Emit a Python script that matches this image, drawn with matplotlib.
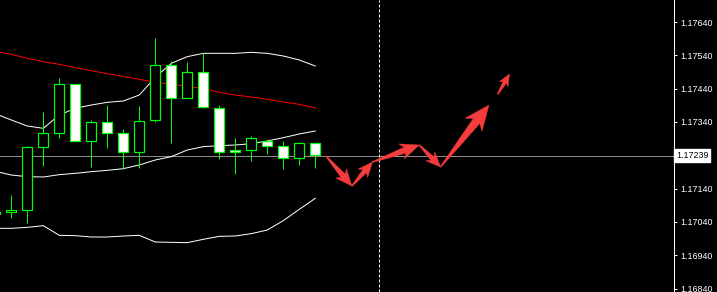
import numpy as np
import matplotlib
matplotlib.use("Agg")
import matplotlib.pyplot as plt
from matplotlib.patches import Rectangle, Polygon

# ---------------- data ----------------
bar_index = list(range(-1, 20))
opens  = [1.17064, 1.17069, 1.17075, 1.17264, 1.17306, 1.17453, 1.17282, 1.17339, 1.17306, 1.17249,
          1.17345, 1.17510, 1.17413, 1.17489, 1.17381, 1.17255, 1.17255, 1.17282, 1.17267, 1.17231, 1.17276]
highs  = [1.17072, 1.17121, 1.17268, 1.17370, 1.17471, 1.17453, 1.17346, 1.17390, 1.17319, 1.17388,
          1.17592, 1.17523, 1.17520, 1.17546, 1.17390, 1.17292, 1.17298, 1.17289, 1.17282, 1.17280, 1.17276]
lows   = [1.17060, 1.17051, 1.17038, 1.17209, 1.17293, 1.17282, 1.17206, 1.17263, 1.17199, 1.17203,
          1.17341, 1.17278, 1.17413, 1.17381, 1.17230, 1.17185, 1.17224, 1.17245, 1.17200, 1.17212, 1.17203]
closes = [1.17070, 1.17075, 1.17264, 1.17306, 1.17453, 1.17282, 1.17339, 1.17306, 1.17249, 1.17342,
          1.17510, 1.17411, 1.17489, 1.17384, 1.17249, 1.17249, 1.17291, 1.17267, 1.17231, 1.17276, 1.17240]

bb_upper = [1.17365, 1.17346, 1.17328, 1.17321, 1.17361, 1.17381, 1.17391, 1.17399, 1.17403, 1.17421,
            1.17474, 1.17516, 1.17536, 1.17546, 1.17546, 1.17546, 1.17549, 1.17546, 1.17538, 1.17526, 1.17508]
bb_middle = [1.17192, 1.17181, 1.17176, 1.17175, 1.17182, 1.17186, 1.17191, 1.17195, 1.17200, 1.17211,
             1.17226, 1.17236, 1.17256, 1.17266, 1.17269, 1.17271, 1.17275, 1.17283, 1.17293, 1.17304, 1.17313]
bb_lower = [1.17021, 1.17021, 1.17024, 1.17029, 1.17000, 1.16999, 1.16995, 1.16995, 1.16998, 1.17000,
            1.16980, 1.16979, 1.16978, 1.16988, 1.16997, 1.16998, 1.17005, 1.17016, 1.17044, 1.17078, 1.17111]
ma_red = [1.17552, 1.17543, 1.17531, 1.17521, 1.17513, 1.17503, 1.17494, 1.17485, 1.17477, 1.17468,
          1.17459, 1.17453, 1.17447, 1.17440, 1.17429, 1.17421, 1.17415, 1.17408, 1.17400, 1.17393, 1.17382]

# forecast arrows (start -> end)
arrow_x0 = [19.67, 21.29, 22.58, 25.50, 26.83, 30.40]
arrow_y0 = [1.17238, 1.17148, 1.17220, 1.17271, 1.17205, 1.17423]
arrow_x1 = [21.29, 22.58, 25.50, 26.83, 29.86, 31.14]
arrow_y1 = [1.17148, 1.17220, 1.17271, 1.17205, 1.17391, 1.17484]

current_price = 1.17239
current_label = "1.17239"
tick_prices = [1.17640, 1.17540, 1.17440, 1.17340, 1.17140, 1.17040, 1.16940, 1.16840]
tick_labels = ["1.17640", "1.17540", "1.17440", "1.17340", "1.17140", "1.17040", "1.16940", "1.16840"]
separator_index = 23.0

# ---------------- figure ----------------
W, H = 717, 292
fig = plt.figure(figsize=(W / 100, H / 100), dpi=100, facecolor="black")
ax = fig.add_axes([0, 0, 674 / W, 1])
ax.set_facecolor("black")
ax.set_xlim(-0.706, 41.42)
ax.set_ylim(1.16830, 1.17706)

GREEN = "#00ff00"
px = 0.72  # one pixel in points

# Bollinger + MA lines
ax.plot(bar_index, bb_upper, color="white", lw=px, zorder=2)
ax.plot(bar_index, bb_middle, color="white", lw=px, zorder=2)
ax.plot(bar_index, bb_lower, color="white", lw=px, zorder=2)
ax.plot(bar_index, ma_red, color="#ff0000", lw=px, zorder=2)

# current price line
ax.axhline(current_price, color="#8c8c8c", lw=px, zorder=1)

# separator
ax.axvline(separator_index, color="white", lw=px, ls=(0, (3, 2)), zorder=1)

# candles
bw = 0.6
for x, o, h, l, c in zip(bar_index, opens, highs, lows, closes):
    ax.plot([x, x], [l, h], color=GREEN, lw=px, zorder=3, solid_capstyle="butt")
    face = "white" if c < o else "black"
    lo, hi = min(o, c), max(o, c)
    ax.add_patch(Rectangle((x - bw / 2, lo), bw, max(hi - lo, 0.00002),
                           facecolor=face, edgecolor=GREEN, lw=px * 1.2, zorder=4))

# arrows (shape computed in pixel space, converted back to data)
fig.canvas.draw()
to_disp = ax.transData
to_data = ax.transData.inverted()
for x0, y0, x1, y1 in zip(arrow_x0, arrow_y0, arrow_x1, arrow_y1):
    p0 = np.array(to_disp.transform((x0, y0)))
    p1 = np.array(to_disp.transform((x1, y1)))
    d = p1 - p0
    L = np.hypot(*d)
    u = d / L
    n = np.array([-u[1], u[0]])
    hl = min(0.22 * L + 8, 0.5 * L)
    hw = 0.85 * hl
    sw = 0.38 * hw
    base = p1 - u * hl
    junction = base + u * hl * 0.2
    pts = [p0 + n * 0.5,
           junction + n * sw / 2,
           base + n * hw / 2,
           p1,
           base - n * hw / 2,
           junction - n * sw / 2,
           p0 - n * 0.5]
    pts_data = to_data.transform(np.array(pts))
    ax.add_patch(Polygon(pts_data, closed=True, facecolor="#f53b3b",
                         edgecolor="#f53b3b", lw=0.3, zorder=5))

# axes styling
for s in ["top", "left", "bottom"]:
    ax.spines[s].set_visible(False)
ax.spines["right"].set_color("white")
ax.spines["right"].set_linewidth(px)
ax.set_xticks([])
ax.yaxis.tick_right()
ax.set_yticks(tick_prices)
ax.set_yticklabels(tick_labels)
ax.tick_params(axis="y", colors="white", length=2.5, width=px, pad=2.2,
               labelsize=6.4)
for t in ax.get_yticklabels():
    t.set_fontfamily("Liberation Sans")

ax.text(1.0 + 2 / 674, current_price, current_label, transform=ax.get_yaxis_transform(),
        ha="left", va="center", fontsize=6.4, family="Liberation Sans", color="black",
        bbox=dict(boxstyle="square,pad=0.2", facecolor="white", edgecolor="white"),
        clip_on=False, zorder=10)

fig.savefig("out.png", dpi=100, facecolor="black")
